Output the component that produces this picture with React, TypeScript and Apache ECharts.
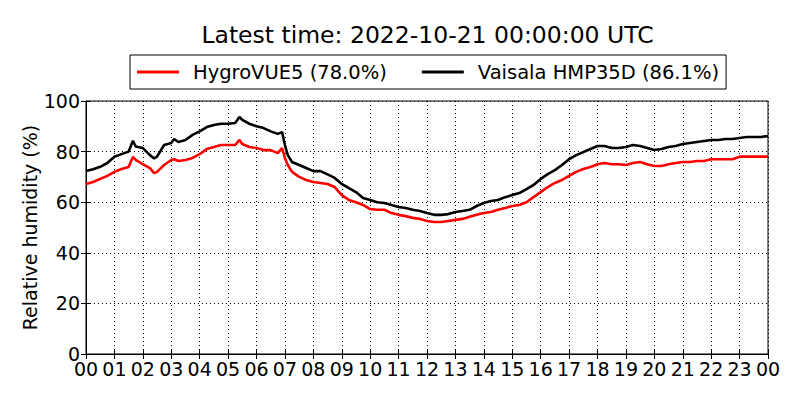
import React, { useEffect, useRef } from "react";
import * as echarts from "echarts";

const TITLE = "Latest time: 2022-10-21 00:00:00 UTC";
const SERIES_NAMES = ["HygroVUE5 (78.0%)", "Vaisala HMP35D (86.1%)"];
const Y_LABEL = "Relative humidity (%)";

const hours = [
  0, 0.25, 0.5, 0.75, 1, 1.25, 1.5, 1.65, 1.75, 2, 2.25, 2.4, 2.5, 2.75, 3, 3.1, 3.25, 3.5, 3.75,
  4, 4.25, 4.5, 4.75, 5, 5.25, 5.4, 5.5, 5.75, 6, 6.25, 6.5, 6.75, 6.9, 7, 7.1, 7.25, 7.5, 7.75,
  8, 8.25, 8.5, 8.75, 9, 9.25, 9.5, 9.75, 10, 10.25, 10.5, 10.75, 11, 11.25, 11.5, 11.75,
  12, 12.25, 12.5, 12.75, 13, 13.25, 13.5, 13.75, 14, 14.25, 14.5, 14.75, 15, 15.25, 15.5, 15.75,
  16, 16.25, 16.5, 16.75, 17, 17.25, 17.5, 17.75, 18, 18.25, 18.5, 18.75, 19, 19.25, 19.5, 19.75,
  20, 20.25, 20.5, 20.75, 21, 21.25, 21.5, 21.75, 22, 22.25, 22.5, 22.75, 23, 23.25, 23.5, 23.75, 24,
];

const hygroVUE5 = [
  67.2, 68, 69.2, 70.4, 72, 73.1, 73.9, 77.9, 76.7, 75, 73.5, 71.5, 72, 74.7, 76.7, 77, 76.3, 76.7, 77.5,
  79, 81, 81.8, 82.6, 82.6, 82.6, 84.6, 83, 81.8, 81.4, 80.6, 80.6, 79.4, 81.4, 77.5, 74.7, 72, 70, 68.8,
  68, 67.6, 67.2, 66, 62.8, 60.9, 60, 58.9, 57.3, 57, 57, 55.7, 55, 54.5, 53.8, 53.4,
  52.6, 52.2, 52.2, 52.6, 53, 53.4, 54.2, 55, 55.7, 56.1, 57, 57.7, 58.5, 58.9, 60, 62,
  64, 66, 67.6, 68.8, 70.4, 72, 73.1, 73.9, 75, 75.5, 75, 75, 74.7, 75.5, 75.9, 75,
  74.3, 74.3, 75, 75.5, 75.9, 75.9, 76.3, 76.3, 77, 77, 77, 77, 78, 78, 78, 78, 78,
];

const vaisalaHMP35D = [
  72.3, 73, 74, 75.5, 78, 79, 80, 84.3, 82, 81.4, 78.6, 77.3, 78, 82.6, 83.4, 85, 83.8, 84.6, 86.6,
  88, 89.7, 90.5, 91, 91, 91.3, 93.7, 92.5, 91, 90, 89.3, 88, 87, 87.7, 82.6, 78.6, 75.9, 74.7, 73.5,
  72.3, 72.3, 71, 69.6, 67.2, 65.6, 64, 61.7, 60.9, 60, 59.7, 58.9, 58.1, 57.7, 57, 56.5,
  55.7, 55, 55, 55.3, 56.1, 56.5, 57, 58.5, 59.7, 60.5, 60.9, 62, 62.8, 63.6, 65.2, 66.8,
  69.2, 71.1, 72.7, 74.7, 77, 78.6, 79.8, 81, 82.2, 82.2, 81.4, 81.4, 81.8, 82.6, 82.2, 81.4,
  80.6, 81, 81.8, 82.2, 83, 83.4, 83.8, 84.2, 84.6, 84.6, 85, 85, 85.4, 85.8, 85.8, 85.8, 86.1,
];

const FONT = "DejaVu Sans";

export default function App() {
  const ref = useRef<HTMLDivElement>(null);
  useEffect(() => {
    if (!ref.current) return;
    const chart = echarts.init(ref.current, undefined, { renderer: "svg" });
    const tickStyle = { show: true, inside: true, length: 5, lineStyle: { color: "#000", width: 1 } };
    const splitLine = { show: true, lineStyle: { color: "#000", width: 1, type: [1, 3] as any } };
    const hourFmt = (v: number) => String(Math.round(v) % 24).padStart(2, "0");
    chart.setOption({
      animation: false,
      backgroundColor: "#fff",
      graphic: [
        {
          type: "text",
          x: 427.5,
          y: 35,
          style: {
            text: TITLE,
            fontFamily: FONT,
            fontSize: 23.5,
            fill: "#000",
            textAlign: "center",
            textVerticalAlign: "middle",
          },
        },
        {
          type: "text",
          x: 30,
          y: 227.5,
          rotation: Math.PI / 2,
          style: {
            text: Y_LABEL,
            fontFamily: FONT,
            fontSize: 19,
            fill: "#000",
            textAlign: "center",
            textVerticalAlign: "middle",
          },
        },
      ],
      legend: {
        left: 130,
        top: 55,
        padding: [7, 7, 7, 7],
        borderColor: "#000",
        borderWidth: 1,
        borderRadius: 0,
        backgroundColor: "#fff",
        itemWidth: 42,
        itemHeight: 3,
        itemGap: 35,
        icon: "rect",
        data: SERIES_NAMES,
        textStyle: { fontFamily: FONT, fontSize: 19.5, color: "#000", padding: [0, 0, 0, 9], lineHeight: 20 },
      },
      grid: { left: 86, right: 32, top: 101, bottom: 46, show: true, borderColor: "#000", borderWidth: 1, backgroundColor: "transparent" },
      xAxis: [
        {
          type: "value",
          min: 0,
          max: 24,
          interval: 1,
          axisLine: { show: true, lineStyle: { color: "#000" } },
          axisTick: tickStyle,
          splitLine,
          axisLabel: { formatter: hourFmt, fontFamily: FONT, fontSize: 19, color: "#000", margin: 5 },
        },
        {
          type: "value",
          position: "top",
          min: 0,
          max: 24,
          interval: 1,
          axisLine: { show: true, lineStyle: { color: "#000" } },
          axisTick: tickStyle,
          splitLine: { show: false },
          axisLabel: { show: false },
        },
      ],
      yAxis: [
        {
          type: "value",
          min: 0,
          max: 100,
          interval: 20,
          axisLine: { show: true, lineStyle: { color: "#000" } },
          axisTick: tickStyle,
          splitLine,
          axisLabel: { fontFamily: FONT, fontSize: 19, color: "#000", margin: 6 },
        },
        {
          type: "value",
          position: "right",
          min: 0,
          max: 100,
          interval: 20,
          axisLine: { show: true, lineStyle: { color: "#000" } },
          axisTick: tickStyle,
          splitLine: { show: false },
          axisLabel: { show: false },
        },
      ],
      series: [
        {
          name: SERIES_NAMES[0],
          type: "line",
          symbol: "none",
          data: hours.map((h, i) => [h, hygroVUE5[i]]),
          lineStyle: { color: "#ff0000", width: 2.6 },
          itemStyle: { color: "#ff0000" },
          z: 3,
        },
        {
          name: SERIES_NAMES[1],
          type: "line",
          symbol: "none",
          data: hours.map((h, i) => [h, vaisalaHMP35D[i]]),
          lineStyle: { color: "#000", width: 2.6 },
          itemStyle: { color: "#000" },
          z: 4,
        },
      ],
    });
    return () => chart.dispose();
  }, []);
  return <div ref={ref} style={{ width: 800, height: 400, position: "absolute", left: 0, top: 0 }} />;
}
